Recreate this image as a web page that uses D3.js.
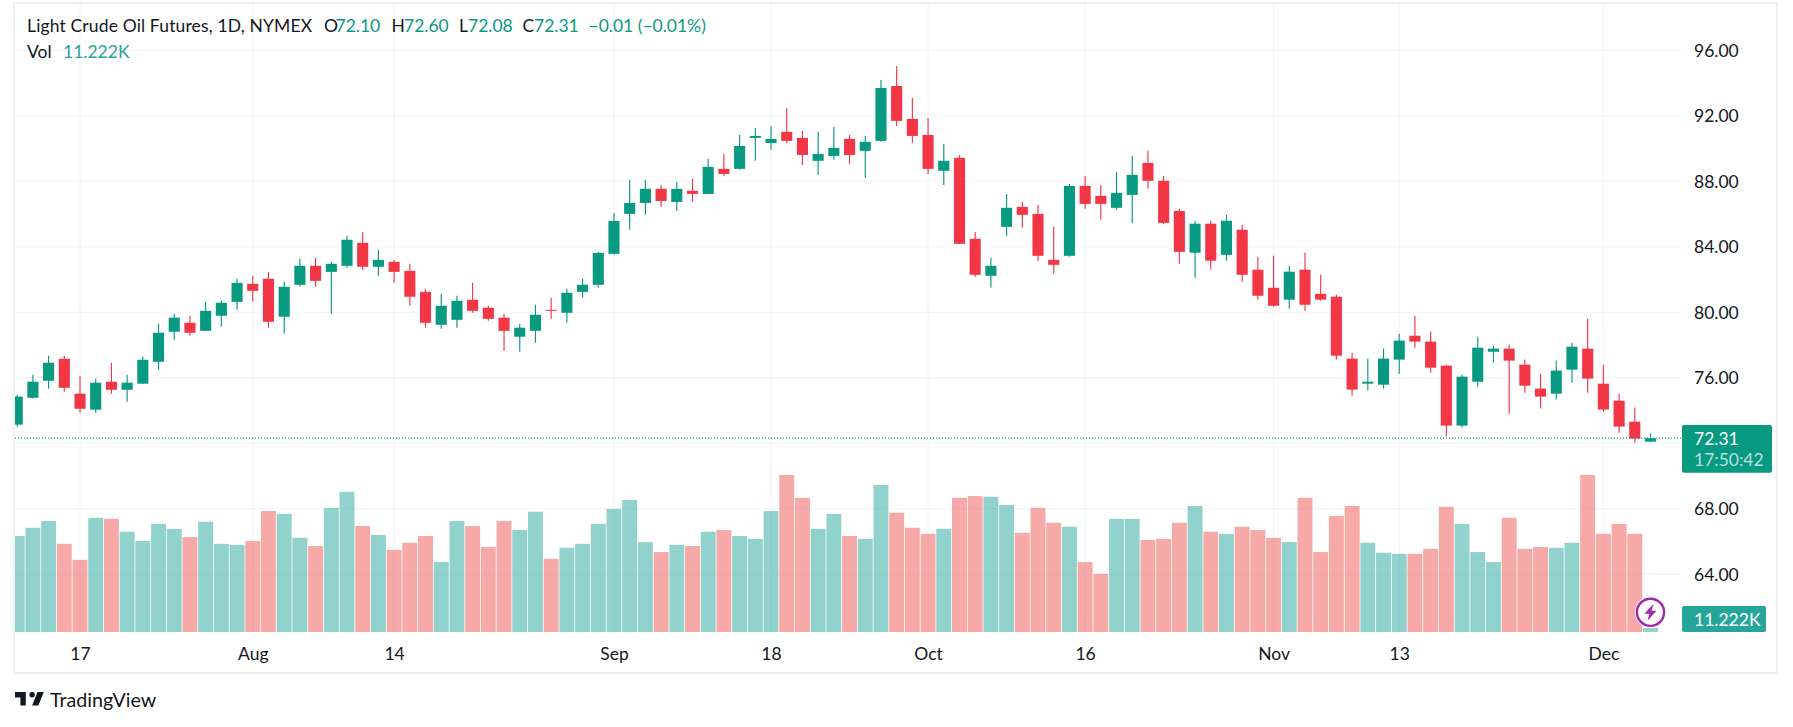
<!DOCTYPE html>
<html>
<head>
<meta charset="utf-8">
<script src="https://cdn.jsdelivr.net/npm/d3@7"></script>
<style>
html,body{margin:0;padding:0;background:#fff;}
svg{display:block;}
text{font-family:Lato,"Noto Sans",sans-serif;}
</style>
</head>
<body>
<svg id="chart" width="1793" height="727"></svg>
<script>
const openPrices = [73.14,74.78,75.82,77.16,75.03,74.05,75.76,75.27,75.64,76.98,
78.81,79.36,78.87,79.79,80.64,81.74,82.05,79.73,81.68,82.84,
82.47,82.84,84.24,82.78,83.08,82.53,81.25,79.24,79.54,80.76,
80.28,79.67,78.51,78.87,80.15,79.97,81.25,81.68,83.57,86.01,
86.68,87.54,86.74,87.42,87.23,88.76,88.76,90.65,90.34,91.02,
90.65,89.25,89.55,90.59,89.86,90.47,93.82,91.81,90.83,88.64,
89.43,84.49,82.23,85.22,86.44,86.01,83.20,83.45,87.72,87.11,
86.38,87.17,89.12,88.03,86.19,83.64,85.41,83.51,85.04,82.60,
81.50,80.77,82.60,81.13,80.95,77.17,75.64,75.58,77.11,78.57,
78.21,76.74,73.08,75.76,77.59,77.78,76.80,75.34,75.03,76.50,
77.78,75.64,74.60,73.32,72.10];
const highPrices = [74.97,76.19,77.35,77.35,76.13,75.94,76.92,76.19,77.29,79.30,
79.91,79.79,80.64,80.70,82.05,82.23,82.47,81.86,83.27,83.33,
83.08,84.67,84.91,83.81,83.20,82.96,81.44,81.13,81.01,81.80,
80.40,79.91,79.30,80.46,80.89,81.44,82.05,83.69,86.07,88.09,
88.09,87.78,87.96,88.15,89.37,89.67,90.83,91.26,91.38,92.48,
91.08,91.02,91.32,90.83,90.77,94.19,95.04,93.09,91.87,90.28,
89.61,84.91,83.33,87.23,86.74,86.56,85.22,87.84,88.33,87.78,
88.57,89.55,89.86,88.33,86.32,85.59,85.59,85.95,85.34,83.39,
83.45,82.84,83.64,82.29,81.07,77.53,77.17,77.78,78.69,79.79,
78.82,76.80,76.19,78.51,77.96,78.02,77.11,76.25,77.05,78.14,
79.61,76.80,75.03,74.18,72.60];
const lowPrices = [73.01,74.74,75.33,75.15,73.87,73.87,75.03,74.54,75.64,76.49,
78.32,78.57,78.87,79.12,80.15,80.64,79.06,78.69,81.56,81.56,
79.91,82.72,82.59,82.23,81.80,80.40,79.06,78.99,79.06,79.97,
79.48,77.65,77.59,78.14,79.60,79.36,80.89,81.50,83.51,85.04,
85.95,86.44,86.19,86.74,87.23,88.33,88.70,89.25,89.92,90.34,
89.00,88.39,89.31,89.06,88.21,90.41,91.38,90.34,88.45,87.78,
84.18,82.17,81.50,84.67,85.16,83.14,82.35,83.39,86.32,85.65,
86.26,85.46,87.54,85.40,82.96,82.11,82.60,83.15,81.87,80.77,
80.34,80.22,80.10,80.71,77.11,74.91,75.22,75.34,76.25,77.84,
76.31,72.41,72.96,75.46,76.92,73.81,75.09,74.12,74.67,75.70,
75.09,73.93,72.65,72.04,72.08];
const closePrices = [74.85,75.76,76.92,75.39,74.11,75.70,75.27,75.70,77.10,78.75,
79.67,78.75,80.09,80.58,81.80,81.31,79.42,81.56,82.84,81.92,
82.96,84.43,82.78,83.20,82.47,80.95,79.36,80.40,80.70,80.09,
79.60,78.87,79.06,79.85,80.11,81.19,81.68,83.63,85.58,86.68,
87.54,86.80,87.54,87.23,88.88,88.45,90.16,90.77,90.59,90.47,
89.61,89.67,90.04,89.61,90.41,93.70,91.69,90.77,88.76,89.25,
84.18,82.29,82.84,86.38,85.95,83.45,82.90,87.72,86.62,86.62,
87.29,88.39,88.03,85.46,83.69,85.41,83.15,85.59,82.29,81.01,
80.40,82.48,80.46,80.77,77.35,75.28,75.76,77.17,78.27,78.21,
76.62,73.08,76.07,77.84,77.78,77.05,75.52,74.85,76.44,77.90,
75.95,74.06,73.02,72.29,72.31];
const volumeK = [269,292,311,247,202,320,317,281,255,303,
289,266,309,247,244,255,339,331,264,241,
348,393,297,272,230,250,269,196,311,297,
238,311,286,337,205,236,247,303,345,370,
252,224,244,241,281,286,269,261,339,440,
376,289,331,269,261,412,334,292,275,289,
376,381,379,356,278,348,306,295,196,163,
317,317,258,261,306,353,281,275,295,286,
264,252,376,224,325,353,250,222,219,219,
233,351,303,224,196,320,233,238,236,250,
440,275,303,275,11.222];

const gridLevels = [96,92,88,84,80,76,72,68,64];
const priceTickLabels = [96,92,88,84,80,76,68,64];
const timeTickIndex = [4,15,24,38,48,58,68,80,88,101];
const timeTickLabels = ["17","Aug","14","Sep","18","Oct","16","Nov","13","Dec"];
const lastPrice = 72.31;
const titleText = "Light Crude Oil Futures, 1D, NYMEX";
const ohlcLabels = [["O","72.10",324,335.5],["H","72.60",391.5,404],["L","72.08",459,468],["C","72.31",522.5,534]];

const GREEN="#089981", RED="#F23645", VGREEN="rgba(38,166,154,0.5)", VRED="rgba(239,83,80,0.5)";
const GRID="#F0F3FA", TEXT="#131722", BORDER="#EEEFF5";
const paneL=15, paneR=1682, paneT=4, paneB=632;
const FS=17.5;

const svg=d3.select("#chart");
const x=d3.scaleLinear().domain([0,104]).range([17.2,1650.5]);
const y=d3.scaleLinear().domain([96,64]).range([50.3,574.3]);
const v=d3.scaleLinear().domain([0,440]).range([paneB,475]);
const step=x(1)-x(0);

svg.append("defs").append("clipPath").attr("id","pane").append("rect")
  .attr("x",paneL).attr("y",paneT).attr("width",paneR-paneL).attr("height",paneB-paneT);

// frame
svg.append("rect").attr("x",14).attr("y",3).attr("width",1763).attr("height",670)
  .attr("fill","none").attr("stroke",BORDER).attr("stroke-width",2);

// grid
const grid=svg.append("g");
grid.selectAll(".h").data(gridLevels).join("line")
  .attr("x1",paneL).attr("x2",paneR).attr("y1",d=>y(d)).attr("y2",d=>y(d))
  .attr("stroke",GRID).attr("stroke-width",1.1);
grid.selectAll(".v").data(timeTickIndex).join("line")
  .attr("x1",d=>x(d)).attr("x2",d=>x(d)).attr("y1",paneT).attr("y2",paneB)
  .attr("stroke",GRID).attr("stroke-width",1.1);

const plot=svg.append("g").attr("clip-path","url(#pane)");
const idx=d3.range(openPrices.length);

// volume
plot.selectAll(".vol").data(idx).join("rect").attr("class","vol")
  .attr("x",i=>x(i)-(step-0.8)/2).attr("width",step-0.8)
  .attr("y",i=>v(volumeK[i])).attr("height",i=>paneB-v(volumeK[i]))
  .attr("fill",i=>closePrices[i]>=openPrices[i]?VGREEN:VRED);

// price line
svg.append("line").attr("x1",paneL).attr("x2",paneR).attr("y1",y(lastPrice)).attr("y2",y(lastPrice))
  .attr("stroke",GREEN).attr("stroke-width",1.2).attr("stroke-dasharray","1 2");

// candles
plot.selectAll(".wick").data(idx).join("line").attr("class","wick")
  .attr("x1",i=>x(i)).attr("x2",i=>x(i)).attr("y1",i=>y(highPrices[i])).attr("y2",i=>y(lowPrices[i]))
  .attr("stroke",i=>closePrices[i]>=openPrices[i]?GREEN:RED).attr("stroke-width",1.15);
plot.selectAll(".body").data(idx).join("rect").attr("class","body")
  .attr("x",i=>x(i)-5.55).attr("width",11.1)
  .attr("y",i=>y(Math.max(openPrices[i],closePrices[i])))
  .attr("height",i=>Math.max(1,Math.abs(y(openPrices[i])-y(closePrices[i]))))
  .attr("fill",i=>closePrices[i]>=openPrices[i]?GREEN:RED);

// price axis
const yAxis=svg.append("g").attr("transform",`translate(${paneR},0.5)`)
  .call(d3.axisRight(y).tickValues(priceTickLabels).tickFormat(d3.format(".2f")).tickSize(0).tickPadding(12));
yAxis.select(".domain").remove();
yAxis.selectAll("text").attr("font-size",FS).attr("fill",TEXT)
  .style("font-family","Lato,'Noto Sans',sans-serif");

// time axis
const xAxis=svg.append("g").attr("transform",`translate(0,${paneB})`)
  .call(d3.axisBottom(x).tickValues(timeTickIndex).tickFormat((d,i)=>timeTickLabels[i]).tickSize(0).tickPadding(0));
xAxis.select(".domain").remove();
xAxis.selectAll("text").attr("font-size",FS).attr("fill",TEXT).attr("dy",null).attr("y",28)
  .style("font-family","Lato,'Noto Sans',sans-serif");

// last price label
svg.append("rect").attr("x",paneR).attr("y",425).attr("width",90).attr("height",47.7).attr("rx",2).attr("fill",GREEN);
svg.append("text").attr("x",1694).attr("y",444.8).attr("font-size",FS).attr("fill","#fff").text(d3.format(".2f")(lastPrice));
svg.append("text").attr("x",1694).attr("y",465.8).attr("font-size",FS).attr("fill","rgba(255,255,255,0.72)").text("17:50:42");

// volume label
svg.append("rect").attr("x",paneR).attr("y",606).attr("width",84).attr("height",26).attr("rx",2).attr("fill","#26A69A");
svg.append("text").attr("x",1694).attr("y",626).attr("font-size",FS).attr("fill","#fff").text("11.222K");

// legend
const lg=svg.append("g").attr("font-size",FS);
lg.append("text").attr("x",27).attr("y",32).attr("fill",TEXT).attr("textLength",285).text(titleText);
ohlcLabels.forEach(([k,val,x1,x2])=>{
  lg.append("text").attr("x",x1).attr("y",32).attr("fill",TEXT).text(k);
  lg.append("text").attr("x",x2).attr("y",32).attr("fill",GREEN).text(val);
});
lg.append("text").attr("x",588.5).attr("y",32).attr("fill",GREEN).text("−0.01 (−0.01%)");
lg.append("text").attr("x",27).attr("y",58).attr("fill",TEXT).text("Vol");
lg.append("text").attr("x",63).attr("y",58).attr("fill","#26A69A").text("11.222K");

// bolt badge
const badge=svg.append("g").attr("transform",`translate(${x(104)},612.3)`);
badge.append("circle").attr("r",15.5).attr("fill","#fff");
badge.append("circle").attr("r",13.6).attr("fill","#fff").attr("stroke","#9C27B0").attr("stroke-width",2.4);
badge.append("path").attr("d","M3,-8.5 L-6,1.5 L-1,1.5 L-3,8.5 L6,-1.5 L1,-1.5 Z").attr("fill","#9C27B0");

// logo
svg.append("path").attr("transform","translate(13.2,686.6) scale(0.9)")
  .attr("d","M14 6H2v6h6v9h6V6zm14 15h-7l6-15h7l-6 15zm-7-9a3 3 0 1 0 0-6 3 3 0 0 0 0 6z")
  .attr("fill","#131722");
svg.append("text").attr("x",50).attr("y",707).attr("font-size",19.7).attr("fill","#131722").text("TradingView");
</script>
</body>
</html>
